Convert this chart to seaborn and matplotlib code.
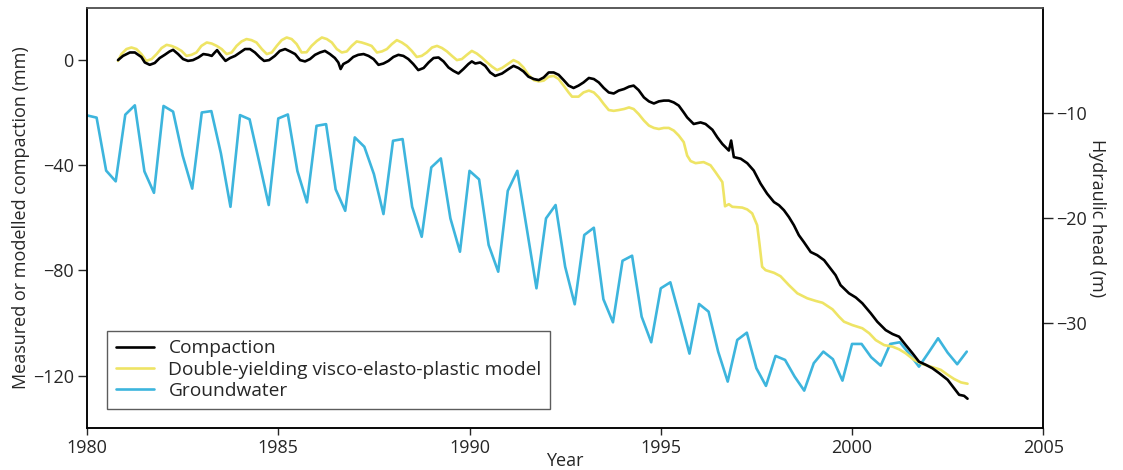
import numpy as np
import pandas as pd
import matplotlib
matplotlib.use("Agg")
import matplotlib.pyplot as plt
import seaborn as sns

# Measured compaction (mm)
comp_t = [1980.81, 1980.94, 1981.12, 1981.25, 1981.42, 1981.51, 1981.64, 1981.77, 1981.90,
          1982.03, 1982.16, 1982.25, 1982.38, 1982.51, 1982.64, 1982.77, 1982.91,
          1983.04, 1983.17, 1983.26, 1983.34, 1983.40, 1983.49, 1983.62, 1983.74, 1983.87,
          1984.00, 1984.13, 1984.26, 1984.39, 1984.52, 1984.63, 1984.76, 1984.91,
          1985.04, 1985.18, 1985.31, 1985.44, 1985.57, 1985.70, 1985.83, 1985.96,
          1986.09, 1986.22, 1986.35, 1986.48, 1986.57, 1986.63, 1986.70, 1986.83, 1986.96,
          1987.09, 1987.23, 1987.36, 1987.49, 1987.62, 1987.75, 1987.88,
          1988.01, 1988.14, 1988.27, 1988.40, 1988.53, 1988.66, 1988.80, 1988.93,
          1989.06, 1989.19, 1989.32, 1989.45, 1989.58, 1989.71, 1989.84, 1989.97,
          1990.06, 1990.15, 1990.28, 1990.41, 1990.54, 1990.67, 1990.85,
          1991.02, 1991.15, 1991.28, 1991.41, 1991.54, 1991.68, 1991.81, 1991.94,
          1992.07, 1992.20, 1992.33, 1992.46, 1992.59, 1992.72, 1992.85, 1992.98,
          1993.12, 1993.25, 1993.38, 1993.51, 1993.64, 1993.77, 1993.90,
          1994.04, 1994.17, 1994.29, 1994.42, 1994.56, 1994.69, 1994.82, 1994.95,
          1995.08, 1995.21, 1995.34, 1995.47, 1995.60, 1995.69, 1995.86,
          1996.04, 1996.17, 1996.35, 1996.48, 1996.61, 1996.78, 1996.84, 1996.91,
          1997.09, 1997.26, 1997.43, 1997.61, 1997.78, 1997.96,
          1998.09, 1998.22, 1998.35, 1998.48, 1998.61, 1998.74, 1998.92,
          1999.09, 1999.27, 1999.44, 1999.57, 1999.70, 1999.92,
          2000.10, 2000.27, 2000.49, 2000.66, 2000.88,
          2001.06, 2001.23, 2001.40, 2001.58, 2001.75, 2001.93,
          2002.10, 2002.28, 2002.50, 2002.67, 2002.80, 2002.93, 2003.02]
comp_mm = [0.0, 1.6, 2.9, 2.9, 1.2, -0.9, -1.8, -1.1, 0.8,
           2.0, 3.3, 3.9, 2.3, 0.4, -0.3, 0.0, 1.0,
           2.3, 2.0, 1.6, 2.9, 3.8, 2.0, -0.3, 0.8, 1.6,
           2.9, 4.2, 4.2, 2.9, 1.0, -0.3, 0.0, 1.6,
           3.5, 4.2, 3.3, 2.3, 0.0, -0.5, 0.4, 2.0,
           2.9, 3.5, 2.3, 0.8, -0.9, -3.4, -1.5, -0.5, 1.2,
           2.0, 2.3, 1.6, 0.4, -1.8, -1.3, -0.3,
           1.2, 2.0, 1.6, 0.4, -1.5, -3.8, -3.0, -0.9,
           0.8, 1.0, -0.5, -2.8, -4.1, -5.1, -3.4, -1.5,
           -0.5, -1.3, -0.9, -2.2, -4.7, -6.0, -5.1,
           -3.4, -2.2, -3.0, -4.3, -6.3, -7.2, -7.6, -6.6,
           -4.7, -4.7, -5.6, -7.6, -9.7, -10.6, -9.7, -8.5,
           -6.8, -7.2, -8.5, -10.6, -12.3, -12.7, -11.6,
           -11.0, -10.1, -9.7, -11.4, -14.2, -15.7, -16.5, -15.7,
           -15.4, -15.4, -16.1, -17.3, -19.9, -21.8, -24.3,
           -23.7, -24.3, -26.5, -29.4, -31.9, -34.4, -30.6, -36.9,
           -37.5, -39.2, -42.0, -47.0, -50.8, -54.0,
           -55.2, -57.1, -59.7, -62.8, -66.6, -69.2, -73.0,
           -74.2, -76.1, -79.3, -81.8, -85.6, -88.7,
           -90.3, -92.5, -96.3, -99.5, -102.7,
           -104.2, -105.2, -108.3, -111.5, -114.7, -115.9,
           -117.2, -119.1, -121.6, -124.8, -127.3, -127.7, -128.8]

# Double-yielding visco-elasto-plastic model (mm)
model_t = [1980.81, 1980.90, 1981.03, 1981.16, 1981.29, 1981.42, 1981.55, 1981.69, 1981.82, 1981.95,
           1982.08, 1982.21, 1982.34, 1982.47, 1982.60, 1982.73, 1982.86, 1982.99,
           1983.13, 1983.26, 1983.39, 1983.52, 1983.65, 1983.78, 1983.91,
           1984.04, 1984.17, 1984.30, 1984.43, 1984.57, 1984.70, 1984.83, 1984.96,
           1985.09, 1985.22, 1985.35, 1985.48, 1985.61, 1985.74, 1985.87,
           1986.01, 1986.14, 1986.27, 1986.40, 1986.53, 1986.66, 1986.79, 1986.92,
           1987.05, 1987.18, 1987.31, 1987.44, 1987.58, 1987.71, 1987.84, 1987.97,
           1988.10, 1988.23, 1988.36, 1988.49, 1988.62, 1988.75, 1988.88,
           1989.02, 1989.15, 1989.28, 1989.41, 1989.54, 1989.67, 1989.80, 1989.93,
           1990.06, 1990.19, 1990.32, 1990.46, 1990.59, 1990.72, 1990.85,
           1991.02, 1991.15, 1991.28, 1991.41, 1991.54, 1991.68, 1991.81, 1991.94,
           1992.07, 1992.20, 1992.33, 1992.46, 1992.59, 1992.68, 1992.85, 1992.98,
           1993.12, 1993.25, 1993.38, 1993.51, 1993.64, 1993.77, 1993.90,
           1994.04, 1994.17, 1994.29, 1994.42, 1994.56, 1994.69, 1994.82, 1994.95,
           1995.08, 1995.21, 1995.34, 1995.47, 1995.60, 1995.69, 1995.78, 1995.91,
           1996.12, 1996.30, 1996.43, 1996.61, 1996.65, 1996.68, 1996.78, 1996.87,
           1997.13, 1997.26, 1997.39, 1997.52, 1997.58, 1997.65, 1997.74, 1997.96,
           1998.13, 1998.35, 1998.57, 1998.83,
           1999.05, 1999.23, 1999.49, 1999.66, 1999.79,
           2000.01, 2000.27, 2000.45, 2000.62, 2000.84,
           2001.06, 2001.23, 2001.40, 2001.62, 2001.84,
           2002.06, 2002.32, 2002.50, 2002.67, 2002.85, 2003.02]
model_mm = [-0.3, 2.3, 4.2, 4.8, 4.2, 2.3, -0.3, 0.4, 2.3, 4.6,
            5.8, 5.4, 4.6, 3.5, 1.6, 2.0, 2.9, 5.4,
            6.7, 6.3, 5.4, 4.2, 2.3, 2.9, 5.4,
            7.1, 8.0, 7.6, 6.7, 4.2, 2.3, 2.9, 5.4,
            7.6, 8.6, 8.0, 6.1, 2.9, 3.0, 5.4,
            7.3, 8.6, 8.0, 6.7, 4.2, 2.9, 3.3, 5.4,
            7.1, 6.7, 6.1, 5.4, 2.9, 3.3, 4.2, 6.1,
            7.6, 6.7, 5.4, 3.5, 1.2, 1.6, 2.9,
            4.8, 5.4, 4.6, 3.3, 1.6, 0.0, 0.4, 2.0,
            3.5, 2.5, 1.0, -0.9, -2.5, -3.8, -3.0,
            -1.3, 0.0, -0.9, -2.8, -5.6, -7.6, -8.1, -7.8,
            -6.3, -6.0, -7.2, -9.7, -12.3, -13.9, -13.9, -12.3,
            -11.6, -12.3, -14.2, -16.7, -19.0, -19.3, -19.0,
            -18.6, -18.0, -18.6, -20.5, -23.0, -24.9, -25.8, -26.2,
            -25.8, -25.8, -26.8, -28.7, -31.2, -36.3, -38.4, -39.2,
            -38.8, -40.0, -42.6, -46.4, -51.4, -55.6, -54.8, -55.8,
            -56.1, -56.8, -58.3, -62.8, -69.8, -78.6, -79.9, -80.9,
            -82.2, -85.6, -88.7, -90.6,
            -91.6, -92.3, -94.8, -97.6, -99.5,
            -100.8, -102.0, -103.9, -106.5, -108.4,
            -109.0, -110.0, -111.5, -114.0, -115.6,
            -116.6, -117.8, -119.7, -121.3, -122.6, -123.1]

# Groundwater hydraulic head (m), quarterly from 1980.0 to 2003.0
gw_start, gw_end = 1980.0, 2003.0
gw_head = [-10.26, -10.47, -15.51, -16.53,
           -10.19, -9.30, -15.58, -17.62,
           -9.36, -9.90, -14.08, -17.22,
           -9.98, -9.85, -13.87, -18.95,
           -10.23, -10.63, -14.67, -18.78,
           -10.55, -10.17, -15.55, -18.53,
           -11.25, -11.09, -17.29, -19.33,
           -12.35, -13.24, -15.84, -19.64,
           -12.67, -12.51, -18.95, -21.80,
           -15.20, -14.35, -20.05, -23.22,
           -15.53, -16.34, -22.58, -25.12,
           -17.43, -15.53, -21.09, -26.70,
           -20.05, -18.78, -24.65, -28.22,
           -21.63, -20.94, -27.74, -29.93,
           -24.08, -23.60, -29.40, -31.83,
           -26.70, -26.13, -29.47, -32.91,
           -28.19, -28.92, -32.72, -35.57,
           -31.61, -30.92, -34.30, -35.98,
           -33.13, -33.51, -35.10, -36.43,
           -33.82, -32.72, -33.44, -35.48,
           -31.99, -31.99, -33.25, -34.05,
           -31.99, -31.83, -32.94, -34.15,
           -32.82, -31.45, -32.82, -33.92,
           -32.72]
gw_t = np.linspace(gw_start, gw_end, len(gw_head))

labels = ["Compaction", "Double-yielding visco-elasto-plastic model", "Groundwater"]
colors = ["black", "#EEE465", "#3DB5DD"]

comp = pd.DataFrame({"Year": comp_t, "mm": comp_mm})
model = pd.DataFrame({"Year": model_t, "mm": model_mm})
gw = pd.DataFrame({"Year": gw_t, "m": gw_head})

sns.set_style("ticks")
plt.rcParams["font.family"] = ["Open Sans", "DejaVu Sans"]
plt.rcParams["font.size"] = 13

fig, ax = plt.subplots(figsize=(11.23, 4.70), dpi=100)
fig.subplots_adjust(left=0.0775, right=0.929, top=0.984, bottom=0.089)
ax2 = ax.twinx()

sns.lineplot(data=gw, x="Year", y="m", ax=ax2, color=colors[2], lw=1.9, label=labels[2], legend=False)
sns.lineplot(data=model, x="Year", y="mm", ax=ax, color=colors[1], lw=1.9, label=labels[1], legend=False)
sns.lineplot(data=comp, x="Year", y="mm", ax=ax, color=colors[0], lw=1.9, label=labels[0], legend=False)

ax.set_xlim(1980, 2005)
ax.set_ylim(-140, 20)
ax2.set_ylim(-40, 0)
ax.set_xticks([1980, 1985, 1990, 1995, 2000, 2005])
ax.set_yticks([0, -40, -80, -120])
ax2.set_yticks([-10, -20, -30])

ax.set_xlabel("Year", fontsize=13, labelpad=-4)
ax.set_ylabel("Measured or modelled compaction (mm)", fontsize=13, labelpad=2)
ax2.set_ylabel("Hydraulic head (m)", fontsize=13, rotation=270, labelpad=14)

ax.tick_params(axis="x", length=5, width=1, pad=3, labelsize=13)
ax.tick_params(axis="y", length=6.5, width=1, pad=3, labelsize=13)
ax2.tick_params(axis="y", length=7, width=1, pad=2, labelsize=13)

for a in (ax, ax2):
    for s in a.spines.values():
        s.set_linewidth(1.1)
        s.set_color("black")
    a.spines["top"].set_color("#555555")
ax.set_zorder(ax2.get_zorder() + 1)
ax.patch.set_visible(False)

handles = ax.get_lines()[::-1] + ax2.get_lines()
leg = ax.legend(handles, labels, loc="lower left", bbox_to_anchor=(0.021, 0.046),
                frameon=True, fancybox=False, edgecolor="#333333", fontsize=13.8,
                handlelength=2.0, borderpad=0.45, labelspacing=0.18, handletextpad=0.75,
                borderaxespad=0)
leg.get_frame().set_linewidth(1.0)

fig.savefig("out.png", dpi=100)
